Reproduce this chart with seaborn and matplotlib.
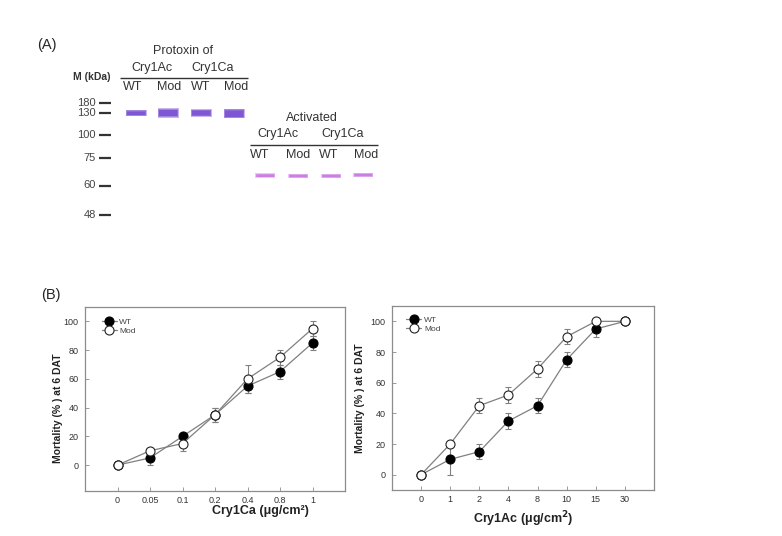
# %%
import pandas as pd
import matplotlib
matplotlib.use('Agg')
import matplotlib.pyplot as plt
import seaborn as sns

# %%
# panel A - SDS-PAGE, positions (pixels from top-left)
ladder_kda = ['180', '130', '100', '75', '60', '48']
ladder_pos = [102.5, 113, 134.5, 158, 185.5, 214.5]
lane_names = ['WT', 'Mod', 'WT', 'Mod']
protoxin_lane_x = [136, 168, 201, 234]
protoxin_band_y = [113, 113, 113, 113.5]
protoxin_band_h = [3, 5.5, 4, 6]
activated_lane_x = [265, 298, 331, 363]
activated_band_y = [175.5, 176, 176, 175]
activated_band_h = [2, 1.5, 1.5, 1.5]

# panel B - bioassay, mortality (%) at 6 DAT
ca_doses = ['0', '0.05', '0.1', '0.2', '0.4', '0.8', '1']
ca_wt = [0, 5, 20, 35, 55, 65, 85]
ca_wt_err = [0, 5, 0, 5, 5, 5, 5]
ca_mod = [0, 10, 15, 35, 60, 75, 95]
ca_mod_err = [0, 0, 5, 5, 10, 5, 5]

ac_doses = ['0', '1', '2', '4', '8', '10', '15', '30']
ac_wt = [0, 10, 15, 35, 45, 75, 95, 100]
ac_wt_err = [0, 10, 5, 5, 5, 5, 5, 0]
ac_mod = [0, 20, 45, 52, 69, 90, 100, 100]
ac_mod_err = [0, 0, 5, 5, 5, 5, 0, 0]

# %%
sns.set_theme(style='white')
plt.rcParams['font.family'] = ['Liberation Sans', 'DejaVu Sans']

fig = plt.figure(figsize=(7.82, 5.36), dpi=100)

# gel panel drawn in pixel-like coordinates
gel = fig.add_axes([0, 0, 1, 1])
gel.set_xlim(0, 782)
gel.set_ylim(536, 0)
gel.axis('off')

gel.text(47, 45, '(A)', fontsize=10.5, ha='center', va='center')
gel.text(92, 77, 'M (kDa)', fontsize=7.5, fontweight='bold', ha='center', va='center', color='#333333')
for lab, y in zip(ladder_kda, ladder_pos):
    gel.text(96, y, lab, fontsize=8, ha='right', va='center', color='#444444')
gel.hlines(ladder_pos, 99, 111, color='#333333', lw=1.6)

gel.text(183, 51, 'Protoxin of', fontsize=9, ha='center', va='center', color='#333333')
gel.text(152, 68, 'Cry1Ac', fontsize=9, ha='center', va='center', color='#333333')
gel.text(213, 68, 'Cry1Ca', fontsize=9, ha='center', va='center', color='#333333')
gel.hlines(77.5, 120, 248, color='#333333', lw=1)
for lab, x in zip(lane_names, [133, 169, 201, 236]):
    gel.text(x, 87, lab, fontsize=9, ha='center', va='center', color='#333333')

gel.text(312, 118, 'Activated', fontsize=9, ha='center', va='center', color='#333333')
gel.text(278, 134, 'Cry1Ac', fontsize=9, ha='center', va='center', color='#333333')
gel.text(343, 134, 'Cry1Ca', fontsize=9, ha='center', va='center', color='#333333')
gel.hlines(145, 250, 378, color='#333333', lw=1)
for lab, x in zip(lane_names, [260, 298, 329, 366]):
    gel.text(x, 155, lab, fontsize=9, ha='center', va='center', color='#333333')

# bands: stacked translucent layers give a soft, blurred edge
for x, y, h in zip(protoxin_lane_x, protoxin_band_y, protoxin_band_h):
    for k in range(4):
        gel.barh(y, 18 + k, left=x - (18 + k) / 2, height=h + 1.2 * k,
                 color='#6a3ccf', alpha=0.38, lw=0)
for x, y, h in zip(activated_lane_x, activated_band_y, activated_band_h):
    for k in range(4):
        gel.barh(y, 17 + k, left=x - (17 + k) / 2, height=h + 0.9 * k,
                 color='#c25ee0', alpha=0.33, lw=0)

fig.text(51 / 782, 1 - 295 / 536, '(B)', fontsize=10.5, ha='center', va='center')


# %%
def draw_curve(ax, doses, wt, wt_err, mod, mod_err):
    df = pd.DataFrame({
        'dose': pd.Categorical(doses * 2, categories=doses, ordered=True),
        'mortality': wt + mod,
        'err': wt_err + mod_err,
        'group': ['WT'] * len(doses) + ['Mod'] * len(doses),
    })
    faces = {'WT': ('black', 'black'), 'Mod': ('white', '#222222')}
    for grp in ['WT', 'Mod']:
        sub = df[df['group'] == grp]
        sns.lineplot(data=sub, x='dose', y='mortality', ax=ax, color='#808080',
                     lw=0.9, marker='o', markersize=6.5, markeredgewidth=0.8,
                     markerfacecolor=faces[grp][0], markeredgecolor=faces[grp][1],
                     label=grp, zorder=3)
        ax.errorbar(doses, sub['mortality'], yerr=sub['err'], fmt='none',
                    ecolor='#808080', elinewidth=0.8, capsize=2, capthick=0.8,
                    zorder=2, label='_nolegend_')
    ax.set_yticks(range(0, 101, 20))
    for s in ax.spines.values():
        s.set_color('#8c8c8c')
        s.set_linewidth(0.9)
    ax.tick_params(bottom=True, left=True, direction='in', length=3, width=0.6,
                   color='#8c8c8c', labelsize=6.5, labelcolor='#333333')
    ax.tick_params(axis='x', pad=3.5)
    ax.tick_params(axis='y', pad=4.5)
    ax.set_ylabel('Mortality (% ) at 6 DAT', fontsize=7.5, fontweight='bold', color='#222222')


ax1 = fig.add_axes([85 / 782, 1 - 491 / 536, 260 / 782, 184 / 536])
draw_curve(ax1, ca_doses, ca_wt, ca_wt_err, ca_mod, ca_mod_err)
ax1.set_xlim(-1, 7)
ax1.set_ylim(-18, 110)
ax1.set_xlabel('Cry1Ca (μg/cm²)', fontsize=9, fontweight='bold', color='#222222')
ax1.xaxis.set_label_coords(0.673, -0.075)
ax1.yaxis.set_label_coords(-0.085, 0.45)
ax1.legend(loc='upper left', bbox_to_anchor=(0.065, 0.94), frameon=False, fontsize=6,
           handlelength=1.8, handletextpad=0.3, labelspacing=0.15, borderpad=0,
           borderaxespad=0, labelcolor='#444444')

ax2 = fig.add_axes([392 / 782, 1 - 490 / 536, 262 / 782, 184 / 536])
draw_curve(ax2, ac_doses, ac_wt, ac_wt_err, ac_mod, ac_mod_err)
ax2.set_xlim(-1, 8)
ax2.set_ylim(-10, 110)
ax2.set_xlabel('Cry1Ac (μg/cm$^{\\mathbf{2}}$)', fontsize=9, fontweight='bold', color='#222222')
ax2.xaxis.set_label_coords(0.5, -0.105)
ax2.yaxis.set_label_coords(-0.103, 0.5)
ax2.legend(loc='upper left', bbox_to_anchor=(0.055, 0.945), frameon=False, fontsize=6,
           handlelength=1.8, handletextpad=0.3, labelspacing=0.15, borderpad=0,
           borderaxespad=0, labelcolor='#444444')

fig.savefig('out.png', dpi=100)
